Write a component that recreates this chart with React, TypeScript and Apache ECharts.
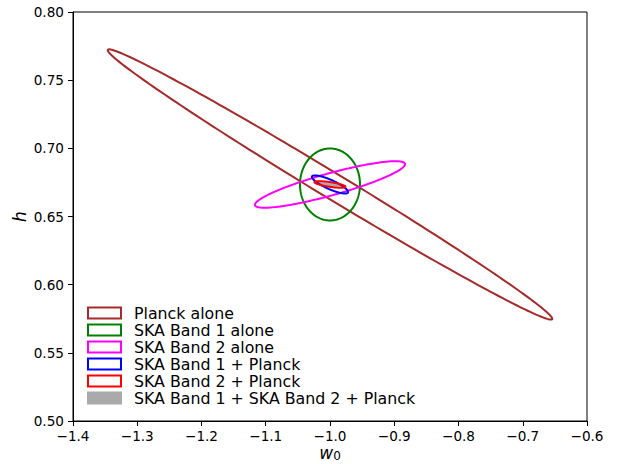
import React, { useEffect, useRef } from "react";
import * as echarts from "echarts";

const seriesNames = [
  "Planck alone",
  "SKA Band 1 alone",
  "SKA Band 2 alone",
  "SKA Band 1 + Planck",
  "SKA Band 2 + Planck",
  "SKA Band 1 + SKA Band 2 + Planck",
];
const strokeColors = ["#a52a2a", "#008000", "#ff00ff", "#0000ff", "#ff0000", "#aaaaaa"];
const filled = [false, false, false, false, false, true];
// fiducial centre of every contour (w0, h)
const centers = [
  [-1.0, 0.6735],
  [-1.0, 0.6735],
  [-1.0, 0.6735],
  [-1.0, 0.6735],
  [-1.0, 0.6735],
  [-1.0, 0.6735],
];
// conjugate semi-diameters of each contour, in data units (w0, h)
const majorAxes = [
  [0.3458, -0.0988],
  [0.0467, 0.0],
  [0.1167, 0.0152],
  [0.028, -0.0059],
  [0.0241, -0.0017],
  [0.021, -0.0011],
];
const minorAxes = [
  [0.0103, 0.008],
  [0.0, 0.0264],
  [0.0045, -0.0078],
  [0.0029, 0.0031],
  [0.0005, 0.0017],
  [0.0003, 0.0013],
];
const xTicks = { min: -1.4, max: -0.6, interval: 0.1 };
const yTicks = { min: 0.5, max: 0.8, interval: 0.05 };

const fmt = (v: number, d: number) => (v < 0 ? "\u2212" : "") + Math.abs(v).toFixed(d);

export default function App() {
  const ref = useRef<HTMLDivElement>(null);
  useEffect(() => {
    if (!ref.current) return;
    const chart = echarts.init(ref.current, null, { renderer: "svg" });
    const font = "DejaVu Sans";
    const drawOrder = [5, 0, 1, 2, 3, 4];
    const series = drawOrder.map((k) => ({
      type: "custom",
      name: seriesNames[k],
      coordinateSystem: "cartesian2d",
      z: 2 + drawOrder.indexOf(k),
      itemStyle: { color: strokeColors[k] },
      data: [[centers[k][0], centers[k][1]]],
      renderItem: (_p: any, api: any) => {
        const pts: number[][] = [];
        const N = 240;
        for (let i = 0; i < N; i++) {
          const t = (2 * Math.PI * i) / N;
          const c = Math.cos(t);
          const s = Math.sin(t);
          pts.push(
            api.coord([
              centers[k][0] + majorAxes[k][0] * c + minorAxes[k][0] * s,
              centers[k][1] + majorAxes[k][1] * c + minorAxes[k][1] * s,
            ])
          );
        }
        return {
          type: "polygon",
          shape: { points: pts },
          style: filled[k]
            ? { fill: strokeColors[k], stroke: null }
            : { fill: null, stroke: strokeColors[k], lineWidth: 2 },
        };
      },
    }));
    chart.setOption({
      animation: false,
      backgroundColor: "#ffffff",
      textStyle: { fontFamily: font },
      grid: {
        left: 73,
        right: 41,
        top: 12,
        bottom: 43,
        outerBoundsMode: "none",
        containLabel: false,
        show: true,
        borderColor: "#000",
        borderWidth: 1,
        backgroundColor: "transparent",
      },
      legend: {
        orient: "vertical",
        left: 82,
        top: 300,
        itemWidth: 33,
        itemHeight: 11,
        itemGap: 1,
        selectedMode: false,
        icon: "rect",
        textStyle: {
          fontFamily: font,
          fontSize: 15.8,
          lineHeight: 15.7,
          color: "#000",
          padding: [0, 0, 0, 8],
        },
        data: seriesNames.map((n, k) => ({
          name: n,
          icon: "rect",
          itemStyle: filled[k]
            ? { color: strokeColors[k], borderColor: strokeColors[k], borderWidth: 2 }
            : { color: "rgba(255,255,255,0)", borderColor: strokeColors[k], borderWidth: 2 },
        })),
      },
      xAxis: {
        type: "value",
        min: xTicks.min,
        max: xTicks.max,
        interval: xTicks.interval,
        name: "{i|w}{s|0}",
        nameLocation: "middle",
        nameGap: 22,
        nameMoveOverlap: false,
        nameTextStyle: {
          rich: {
            i: { fontFamily: font, fontStyle: "italic", fontSize: 17, color: "#000", lineHeight: 20 },
            s: { fontFamily: font, fontSize: 12, color: "#000", lineHeight: 20, padding: [6, 0, 0, 0] },
          },
        },
        axisLine: { onZero: false, lineStyle: { color: "#000", width: 1 } },
        axisTick: { show: true, inside: false, length: 5, lineStyle: { color: "#000" } },
        splitLine: { show: false },
        axisLabel: {
          margin: 8,
          fontFamily: font,
          fontSize: 13.6,
          color: "#000",
          formatter: (v: number) => fmt(v, 1),
        },
      },
      yAxis: {
        type: "value",
        min: yTicks.min,
        max: yTicks.max,
        interval: yTicks.interval,
        name: "h",
        nameLocation: "middle",
        nameGap: 45,
        nameMoveOverlap: false,
        nameRotate: 90,
        nameTextStyle: { fontFamily: font, fontStyle: "italic", fontSize: 17, color: "#000" },
        axisLine: { onZero: false, lineStyle: { color: "#000", width: 1 } },
        axisTick: { show: true, inside: false, length: 5, lineStyle: { color: "#000" } },
        splitLine: { show: false },
        axisLabel: {
          margin: 9,
          fontFamily: font,
          fontSize: 13.6,
          color: "#000",
          formatter: (v: number) => fmt(v, 2),
        },
      },
      series,
    } as any);
    return () => chart.dispose();
  }, []);
  return (
    <div
      ref={ref}
      style={{ position: "fixed", left: 0, top: 0, width: 628, height: 464, background: "#fff" }}
    />
  );
}
